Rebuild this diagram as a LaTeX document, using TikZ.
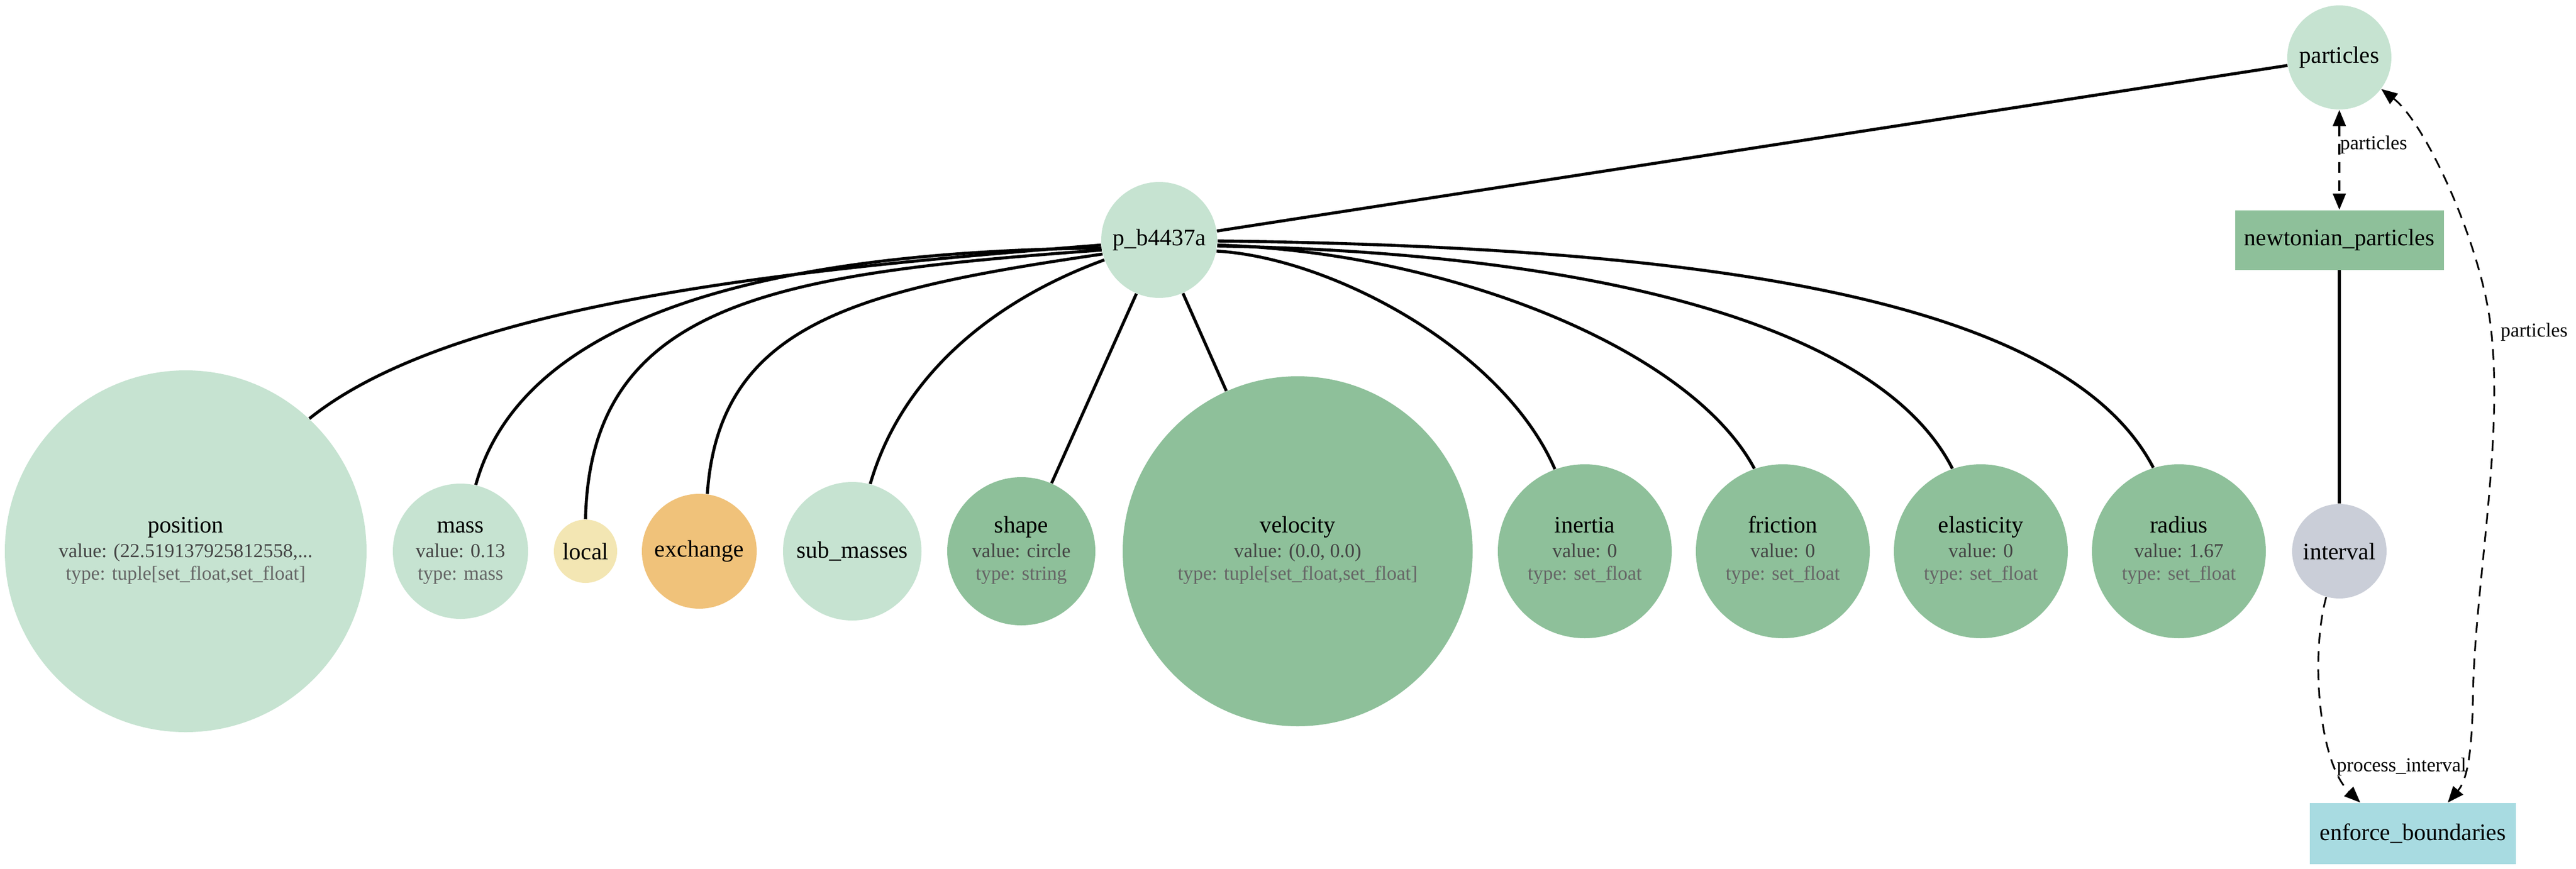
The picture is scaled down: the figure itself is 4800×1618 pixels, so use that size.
\documentclass[tikz,border=0pt]{standalone}
\usepackage{fontspec}
\setmainfont{Liberation Serif}
\usetikzlibrary{arrows.meta}
\definecolor{lgreen}{HTML}{C6E3D1}
\definecolor{dgreen}{HTML}{8EC09A}
\definecolor{lyellow}{HTML}{F3E6B3}
\definecolor{lorange}{HTML}{F0C27A}
\definecolor{grayblue}{HTML}{CACED8}
\definecolor{lcyan}{HTML}{A8DBE1}
\definecolor{valgray}{HTML}{444444}
\definecolor{typegray}{HTML}{666666}
\tikzset{
  ent/.style={circle, draw=none, inner sep=0pt, font=\fontsize{11}{13}\selectfont},
  boxnode/.style={rectangle, draw=none, inner sep=0pt, font=\fontsize{11}{13}\selectfont},
  nm/.style={anchor=base, inner sep=0pt, font=\fontsize{11}{13}\selectfont},
  vl/.style={anchor=base, inner sep=0pt, text=valgray, font=\fontsize{9.2}{11}\selectfont},
  ty/.style={anchor=base, inner sep=0pt, text=typegray, font=\fontsize{9.2}{11}\selectfont},
  link/.style={line width=1.4pt},
  dep/.style={line width=0.8pt, dash pattern=on 5pt off 3.5pt},
  elabel/.style={inner sep=0pt, font=\fontsize{9.2}{11}\selectfont},
}
\newcommand\attrnode[7]{%
  \node[ent, fill=#4, minimum size=#3] (#1) at (#2,1027) {};
  \node[nm] (#1-n) at (#2,992) {#5};
  \node[vl] (#1-v) at (#2,1038) {#6};
  \node[ty] (#1-t) at (#2,1080) {#7};
}
\begin{document}
\begin{tikzpicture}[x=0.25pt,y=-0.25pt]
\useasboundingbox (0,0) rectangle (4800,1618);
% nodes
\node[ent, fill=lgreen, minimum size=54pt] (p) at (2160,447) {p\_b4437a};
\node[ent, fill=lgreen, minimum size=48.5pt] (particles) at (4359,107) {particles};
\node[boxnode, fill=dgreen, minimum width=97.25pt, minimum height=27.75pt] (newt) at (4359,447) {newtonian\_particles};
\node[ent, fill=grayblue, minimum size=44pt] (interval) at (4359,1027) {interval};
\node[boxnode, fill=lcyan, minimum width=96pt, minimum height=28.5pt] (eb) at (4496,1553) {enforce\_boundaries};

\attrnode{position}{346}{168.5pt}{lgreen}{position}{value: (22.519137925812558,...}{type: tuple[set\_float,set\_float]}
\attrnode{mass}{858}{63pt}{lgreen}{mass}{value: 0.13}{type: mass}
\node[ent, fill=lyellow, minimum size=29.5pt] (local) at (1091,1027) {local};
\node[ent, fill=lorange, minimum size=53.5pt] (exchange) at (1303,1027) {exchange};
\node[ent, fill=lgreen, minimum size=64.5pt] (submasses) at (1588,1027) {sub\_masses};
\attrnode{shape}{1903}{69pt}{dgreen}{shape}{value: circle}{type: string}
\attrnode{velocity}{2418}{163pt}{dgreen}{velocity}{value: (0.0, 0.0)}{type: tuple[set\_float,set\_float]}
\attrnode{inertia}{2953}{81pt}{dgreen}{inertia}{value: 0}{type: set\_float}
\attrnode{friction}{3322}{81pt}{dgreen}{friction}{value: 0}{type: set\_float}
\attrnode{elasticity}{3691}{81pt}{dgreen}{elasticity}{value: 0}{type: set\_float}
\attrnode{radius}{4060}{81pt}{dgreen}{radius}{value: 1.67}{type: set\_float}

% solid links
\draw[link] (p) -- (particles);
\draw[link] (p.185) .. controls (1500,500) and (850,560) .. (position.47);
\draw[link] (p.188) .. controls (1300,470) and (960,640) .. (mass.77);
\draw[link] (p.190) .. controls (1450,510) and (1100,560) .. (local.90);
\draw[link] (p.194) .. controls (1600,540) and (1340,600) .. (exchange.82);
\draw[link] (p.200) .. controls (1850,560) and (1680,700) .. (submasses.75);
\draw[link] (p.247) -- (shape.66);
\draw[link] (p.294) -- (velocity.114);
\draw[link] (p.349) .. controls (2480,480) and (2800,650) .. (inertia.110);
\draw[link] (p.355) .. controls (2700,470) and (3150,650) .. (friction.109);
\draw[link] (p.354) .. controls (2950,470) and (3500,600) .. (elasticity.109);
\draw[link] (p.359) .. controls (3200,460) and (3850,560) .. (radius.107);
\draw[link] (newt) -- (interval);

% dashed flows
\draw[dep, {Triangle[length=7.5pt,width=6pt]}-{Triangle[length=7.5pt,width=6pt]}] (particles) -- (newt);
\node[elabel] (l1) at (4423,270) {particles};
\draw[dep, {Triangle[length=7.5pt,width=6pt]}-{Triangle[length=7.5pt,width=6pt]}]
  (particles.-37) .. controls (4520,230) and (4620,450) .. (4640,600)
  .. controls (4668,810) and (4610,1100) .. (4608,1300)
  .. controls (4606,1400) and (4598,1452) .. ([xshift=16.25pt]eb.north);
\node[elabel] (l2) at (4722,619) {particles};
\draw[dep, -{Triangle[length=7.5pt,width=6pt]}] (interval.254) .. controls (4305,1220) and (4320,1420) .. ([xshift=-24.5pt]eb.north);
\node[elabel] (l3) at (4475,1429) {process\_interval};
\end{tikzpicture}
\end{document}
